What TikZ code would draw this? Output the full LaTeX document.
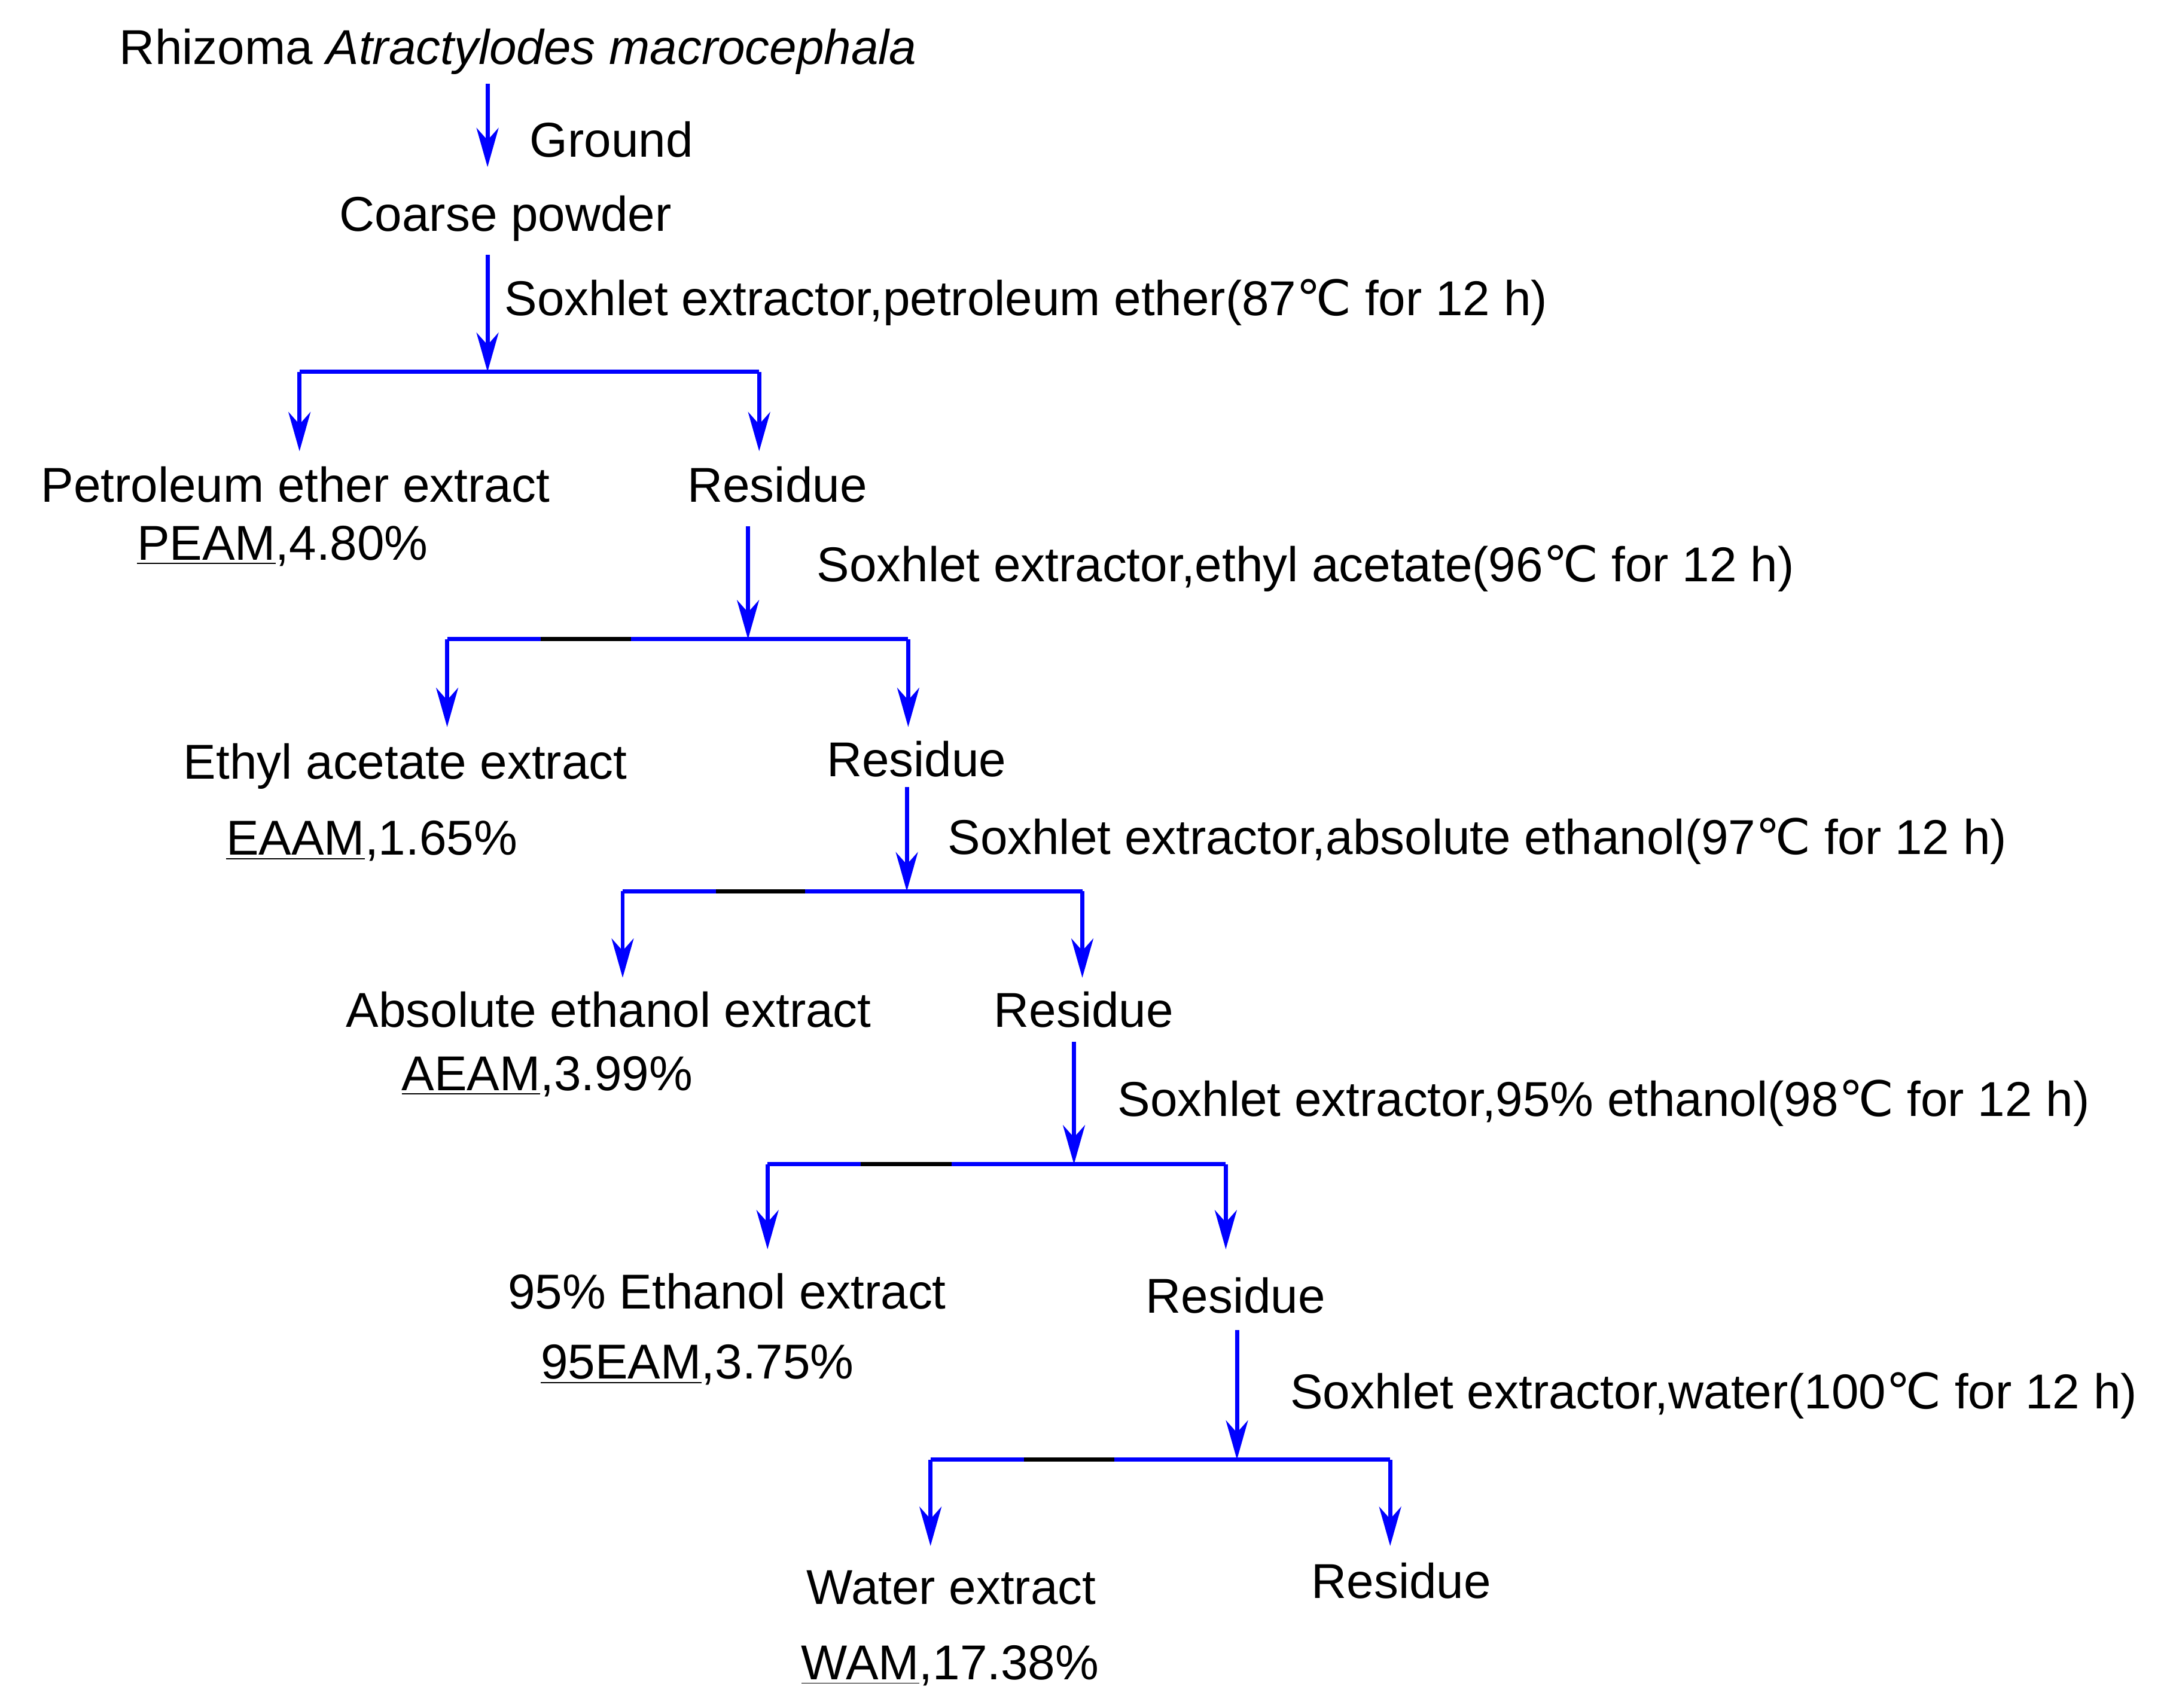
\documentclass[tikz,border=0pt]{standalone}
\usepackage{fontspec}
\setmainfont{Liberation Sans}
\newfontfamily\djv{DejaVu Sans}
\usetikzlibrary{arrows.meta}
\newcommand{\cels}{{\djv ℃}}
\begin{document}
\begin{tikzpicture}[x=0.02cm,y=-0.02cm,
  every node/.style={font=\fontsize{20}{24}\selectfont, inner sep=0pt},
  ln/.style={blue, line width=1.7pt},
  ar/.style={ln, -{Stealth[length=16pt,width=9pt,inset=5pt]}},
  blk/.style={black, line width=1.7pt}]
\useasboundingbox (0,0) rectangle (1560,1226);
% texts
\node (rz) at (372,37) {Rhizoma \textit{Atractylodes macrocephala}};
\node[anchor=west] (gr) at (380,100) {Ground};
\node (cp) at (363,157) {Coarse powder};
\node[anchor=west] (l1) at (362,217) {Soxhlet extractor,petroleum ether(87\cels{} for 12 h)};
\node (pe) at (212,348) {Petroleum ether extract};
\node[anchor=west] (pe2) at (98,392) {\underline{PEAM},4.80\%};
\node (r1) at (558,348) {Residue};
\node[anchor=west] (l2) at (586,408) {Soxhlet extractor,ethyl acetate(96\cels{} for 12 h)};
\node (ea) at (291,550) {Ethyl acetate extract};
\node[anchor=west] (ea2) at (162,604) {\underline{EAAM},1.65\%};
\node (r2) at (658,545) {Residue};
\node[anchor=west] (l3) at (680,604) {Soxhlet extractor,absolute ethanol(97\cels{} for 12 h)};
\node (ae) at (437,725) {Absolute ethanol extract};
\node[anchor=west] (ae2) at (288,773) {\underline{AEAM},3.99\%};
\node (r3) at (778,725) {Residue};
\node[anchor=west] (l4) at (802,792) {Soxhlet extractor,95\% ethanol(98\cels{} for 12 h)};
\node (ne) at (522,927) {95\% Ethanol extract};
\node[anchor=west] (ne2) at (388,980) {\underline{95EAM},3.75\%};
\node (r4) at (887,930) {Residue};
\node[anchor=west] (l5) at (926,1002) {Soxhlet extractor,water(100\cels{} for 12 h)};
\node (we) at (683,1140) {Water extract};
\node[anchor=west] (we2) at (575,1196) {\underline{WAM},17.38\%};
\node (r5) at (1006,1135) {Residue};
% coordinates
\coordinate (a0s) at (350,60); \coordinate (a0e) at (350,120);
\coordinate (a1s) at (350,183); \coordinate (a1e) at (350,267);
\coordinate (b1l) at (215,267); \coordinate (b1r) at (545,267);
\coordinate (b1le) at (215,324); \coordinate (b1re) at (545,324);
\coordinate (a2s) at (537,378); \coordinate (a2e) at (537,459);
\coordinate (b2l) at (321,459); \coordinate (b2r) at (652,459);
\coordinate (b2le) at (321,522); \coordinate (b2re) at (652,522);
\coordinate (k2a) at (388,459); \coordinate (k2b) at (453,459);
\coordinate (a3s) at (651,565); \coordinate (a3e) at (651,640);
\coordinate (b3l) at (447,640); \coordinate (b3r) at (777,640);
\coordinate (b3le) at (447,702); \coordinate (b3re) at (777,702);
\coordinate (k3a) at (514,640); \coordinate (k3b) at (578,640);
\coordinate (a4s) at (771,748); \coordinate (a4e) at (771,836);
\coordinate (b4l) at (551,836); \coordinate (b4r) at (880,836);
\coordinate (b4le) at (551,897); \coordinate (b4re) at (880,897);
\coordinate (k4a) at (618,836); \coordinate (k4b) at (683,836);
\coordinate (a5s) at (888,955); \coordinate (a5e) at (888,1048);
\coordinate (b5l) at (668,1048); \coordinate (b5r) at (998,1048);
\coordinate (b5le) at (668,1110); \coordinate (b5re) at (998,1110);
\coordinate (k5a) at (735,1048); \coordinate (k5b) at (800,1048);
% arrows
\draw[ar] (a0s) -- (a0e);
\draw[ar] (a1s) -- (a1e);
\draw[ln] (b1l) -- (b1r);
\draw[ar] (b1l) -- (b1le); \draw[ar] (b1r) -- (b1re);
\draw[ar] (a2s) -- (a2e);
\draw[ln] (b2l) -- (b2r); \draw[blk] (k2a) -- (k2b);
\draw[ar] (b2l) -- (b2le); \draw[ar] (b2r) -- (b2re);
\draw[ar] (a3s) -- (a3e);
\draw[ln] (b3l) -- (b3r); \draw[blk] (k3a) -- (k3b);
\draw[ar] (b3l) -- (b3le); \draw[ar] (b3r) -- (b3re);
\draw[ar] (a4s) -- (a4e);
\draw[ln] (b4l) -- (b4r); \draw[blk] (k4a) -- (k4b);
\draw[ar] (b4l) -- (b4le); \draw[ar] (b4r) -- (b4re);
\draw[ar] (a5s) -- (a5e);
\draw[ln] (b5l) -- (b5r); \draw[blk] (k5a) -- (k5b);
\draw[ar] (b5l) -- (b5le); \draw[ar] (b5r) -- (b5re);
\end{tikzpicture}
\end{document}
